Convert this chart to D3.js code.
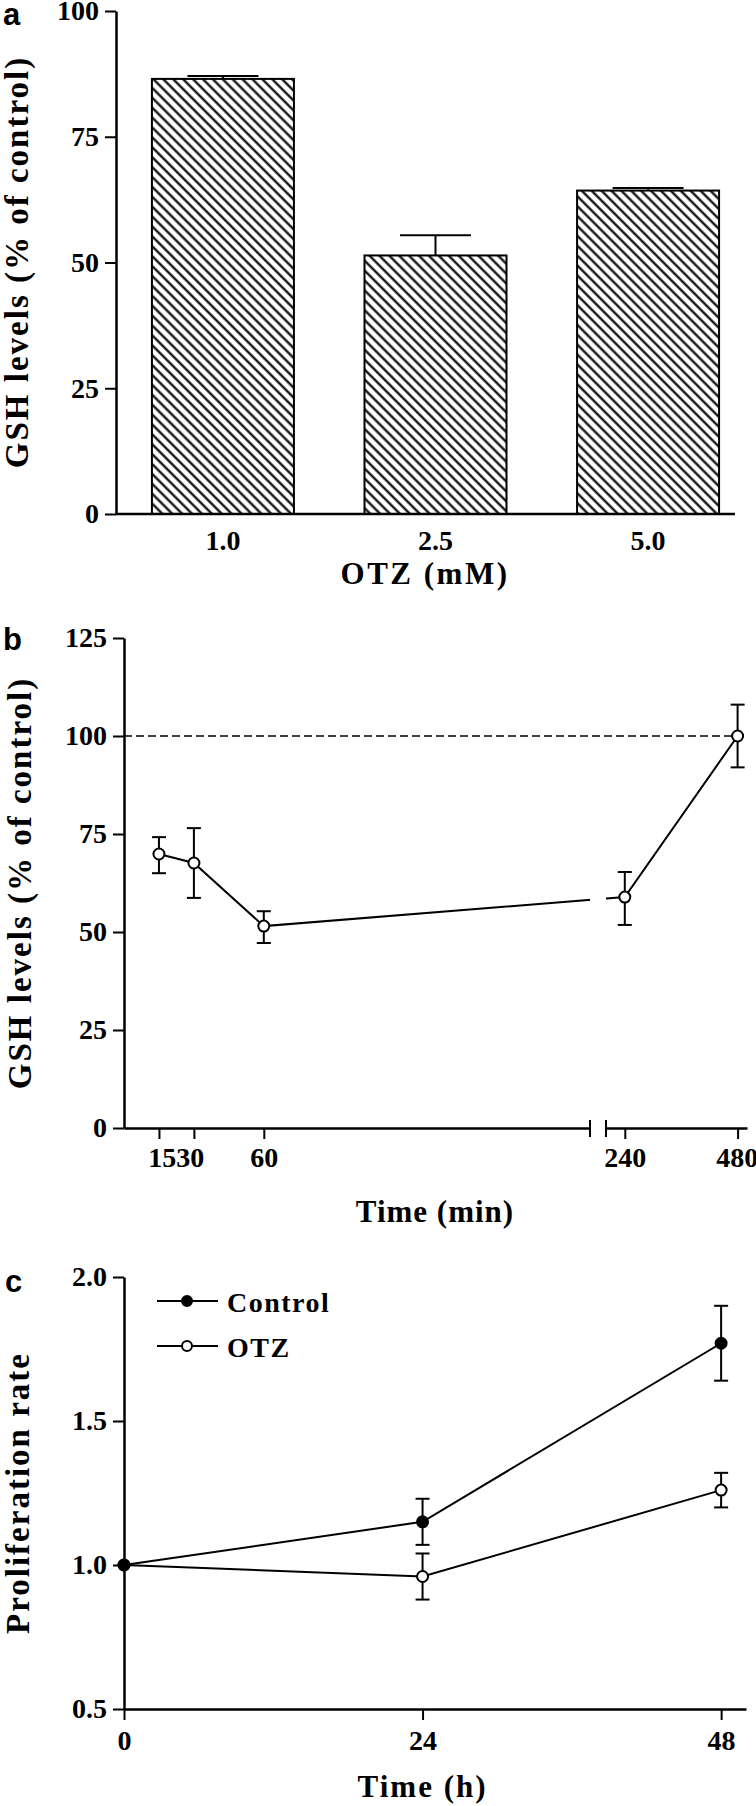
<!DOCTYPE html>
<html>
<head>
<meta charset="utf-8">
<script src="https://cdn.jsdelivr.net/npm/d3@7"></script>
<style>
  body { margin: 0; background: #fff; }
  text { font-family: "Liberation Serif", "Times New Roman", serif; font-weight: bold; }
  .letter { font-family: "Liberation Sans", Arial, sans-serif; font-weight: bold; font-size: 31px; }
</style>
</head>
<body>
<div id="chart"></div>
<script>
// panel a data
var otzConc = ["1.0", "2.5", "5.0"];
var gshA = [86.5, 51.4, 64.3];
var gshAErr = [0.6, 4.0, 0.5];

// panel b data
var timeMin = [15, 30, 60, 240, 480];
var gshB = [69.9, 67.6, 51.5, 58.9, 100];
var gshBLow = [65.0, 58.7, 47.2, 51.8, 92];
var gshBHigh = [74.2, 76.5, 55.3, 65.3, 108];

// panel c data
var timeH = [0, 24, 48];
var ctrlRate = [1.0, 1.15, 1.77];
var ctrlErr = [0, 0.08, 0.13];
var otzRate = [1.0, 0.96, 1.26];
var otzErr = [0, 0.08, 0.06];

var tickFont = "28px";

var svg = d3.select("#chart").append("svg")
    .attr("width", 756)
    .attr("height", 1806)
    .style("background", "#fff");

var defs = svg.append("defs");

// diagonal hatch for the bars
defs.append("pattern")
    .attr("id", "hatch")
    .attr("patternUnits", "userSpaceOnUse")
    .attr("width", 7)
    .attr("height", 7)
    .attr("patternTransform", "rotate(-45)")
  .append("line")
    .attr("x1", 3.5).attr("y1", 0)
    .attr("x2", 3.5).attr("y2", 7)
    .attr("stroke", "#000")
    .attr("stroke-width", 2.2);

function styleAxis(g) {
  g.select(".domain").attr("stroke", "#000").attr("stroke-width", 2.5);
  g.selectAll(".tick line").attr("stroke", "#000").attr("stroke-width", 2);
  g.selectAll(".tick text").style("font-size", tickFont).attr("fill", "#000");
}

function errBar(g, x, y1, y2, w) {
  g.append("line").attr("x1", x).attr("x2", x).attr("y1", y1).attr("y2", y2)
    .attr("stroke", "#000").attr("stroke-width", 2);
  g.append("line").attr("x1", x - w / 2).attr("x2", x + w / 2).attr("y1", y2).attr("y2", y2)
    .attr("stroke", "#000").attr("stroke-width", 2);
}

function yTitle(txt, x, y) {
  svg.append("text")
    .attr("text-anchor", "middle")
    .attr("transform", "translate(" + x + "," + y + ")rotate(-90)")
    .style("font-size", "33px")
    .style("letter-spacing", "2px")
    .text(txt);
}

function xTitle(txt, x, y, ls) {
  svg.append("text")
    .attr("x", x).attr("y", y)
    .attr("text-anchor", "middle")
    .style("font-size", "31px")
    .style("letter-spacing", ls + "px")
    .text(txt);
}

// ---------------- panel a ----------------
var ya = d3.scaleLinear().domain([0, 100]).range([514, 11]);
var xa = d3.scaleBand().domain(otzConc).range([116, 755])
    .paddingInner(0.332).paddingOuter(0.169);

var ga = svg.append("g");

ga.selectAll("rect.bar")
  .data(gshA)
  .enter().append("rect")
    .attr("class", "bar")
    .attr("x", function(d, i) { return xa(otzConc[i]); })
    .attr("y", function(d) { return ya(d); })
    .attr("width", xa.bandwidth())
    .attr("height", function(d) { return ya(0) - ya(d); })
    .attr("fill", "url(#hatch)")
    .attr("stroke", "#000")
    .attr("stroke-width", 2);

gshA.forEach(function(d, i) {
  var cx = xa(otzConc[i]) + xa.bandwidth() / 2;
  errBar(ga, cx, ya(d), ya(d + gshAErr[i]), xa.bandwidth() / 2);
});

var ayA = ga.append("g").attr("transform", "translate(116,0)")
    .call(d3.axisLeft(ya).tickValues([0, 25, 50, 75, 100]).tickSize(11).tickSizeOuter(0).tickPadding(6));
styleAxis(ayA);

var axA = ga.append("g").attr("transform", "translate(0,514)")
    .call(d3.axisBottom(xa).tickSize(0).tickPadding(16));
styleAxis(axA);
axA.select(".domain").remove();
ga.append("line").attr("x1", 116).attr("x2", 735).attr("y1", 514).attr("y2", 514)
  .attr("stroke", "#000").attr("stroke-width", 2.5);

xTitle("OTZ (mM)", 425, 584, 2.5);
yTitle("GSH levels (% of control)", 28, 262);
svg.append("text").attr("class", "letter").attr("x", 3).attr("y", 25).text("a");

// ---------------- panel b ----------------
var yb = d3.scaleLinear().domain([0, 125]).range([1128, 638]);
var xb1 = d3.scaleLinear().domain([0, 200]).range([124, 590]);
var xb2 = d3.scaleLinear().domain([200, 500]).range([606, 747]);
function xb(t) { return t <= 200 ? xb1(t) : xb2(t); }

var gb = svg.append("g");

var clip = defs.append("clipPath").attr("id", "brk");
clip.append("rect").attr("x", 0).attr("y", 600).attr("width", 590).attr("height", 540);
clip.append("rect").attr("x", 606).attr("y", 600).attr("width", 150).attr("height", 540);

// dashed 100% reference
gb.append("line")
  .attr("x1", 124).attr("x2", 747)
  .attr("y1", yb(100)).attr("y2", yb(100))
  .attr("stroke", "#000").attr("stroke-width", 1.6)
  .attr("stroke-dasharray", "8,4");

var lineB = d3.line()
    .x(function(d, i) { return xb(timeMin[i]); })
    .y(function(d) { return yb(d); });

gb.append("path")
  .attr("d", lineB(gshB))
  .attr("clip-path", "url(#brk)")
  .attr("fill", "none").attr("stroke", "#000").attr("stroke-width", 2);

gshB.forEach(function(d, i) {
  var cx = xb(timeMin[i]);
  errBar(gb, cx, yb(d), yb(gshBHigh[i]), 14);
  errBar(gb, cx, yb(d), yb(gshBLow[i]), 14);
});

gb.selectAll("circle")
  .data(gshB)
  .enter().append("circle")
    .attr("cx", function(d, i) { return xb(timeMin[i]); })
    .attr("cy", function(d) { return yb(d); })
    .attr("r", 5.5)
    .attr("fill", "#fff").attr("stroke", "#000").attr("stroke-width", 2);

var ayB = gb.append("g").attr("transform", "translate(124,0)")
    .call(d3.axisLeft(yb).tickValues([0, 25, 50, 75, 100, 125]).tickSize(11).tickSizeOuter(0).tickPadding(6));
styleAxis(ayB);

var axB1 = gb.append("g").attr("transform", "translate(0,1128)")
    .call(d3.axisBottom(xb1).tickValues([15, 30, 60]).tickSize(11).tickSizeOuter(0).tickPadding(8));
styleAxis(axB1);
// 15 and 30 sit close together, as in the original
axB1.selectAll(".tick text").attr("dx", function(d) { return d === 15 ? "0.1em" : (d === 30 ? "-0.15em" : 0); });

var axB2 = gb.append("g").attr("transform", "translate(0,1128)")
    .call(d3.axisBottom(xb2).tickValues([240, 480]).tickSize(11).tickSizeOuter(0).tickPadding(8));
styleAxis(axB2);
axB2.selectAll(".tick text").attr("text-anchor", function(d) { return d === 480 ? "end" : "middle"; })
    .attr("dx", function(d) { return d === 480 ? "0.72em" : 0; });

// axis break marks
[590, 606].forEach(function(x) {
  gb.append("line").attr("x1", x).attr("x2", x).attr("y1", 1120).attr("y2", 1137)
    .attr("stroke", "#000").attr("stroke-width", 2);
});

xTitle("Time (min)", 435, 1222, 1);
yTitle("GSH levels (% of control)", 31, 883);
svg.append("text").attr("class", "letter").attr("x", 3).attr("y", 650).text("b");

// ---------------- panel c ----------------
var yc = d3.scaleLinear().domain([0.5, 2.0]).range([1709, 1277]);
var xc = d3.scaleLinear().domain([0, 50]).range([124, 746]);

var gc = svg.append("g");

var lineC = d3.line()
    .x(function(d, i) { return xc(timeH[i]); })
    .y(function(d) { return yc(d); });

[[otzRate, otzErr, "#fff"], [ctrlRate, ctrlErr, "#000"]].forEach(function(s) {
  gc.append("path")
    .attr("d", lineC(s[0]))
    .attr("fill", "none").attr("stroke", "#000").attr("stroke-width", 2);
  s[0].forEach(function(d, i) {
    if (s[1][i] > 0) {
      errBar(gc, xc(timeH[i]), yc(d), yc(d + s[1][i]), 14);
      errBar(gc, xc(timeH[i]), yc(d), yc(d - s[1][i]), 14);
    }
  });
  gc.selectAll(null)
    .data(s[0])
    .enter().append("circle")
      .attr("cx", function(d, i) { return xc(timeH[i]); })
      .attr("cy", function(d) { return yc(d); })
      .attr("r", 5.5)
      .attr("fill", s[2]).attr("stroke", "#000").attr("stroke-width", 2);
});

var ayC = gc.append("g").attr("transform", "translate(124,0)")
    .call(d3.axisLeft(yc).tickValues([0.5, 1.0, 1.5, 2.0]).tickFormat(d3.format(".1f"))
      .tickSize(11).tickSizeOuter(0).tickPadding(6));
styleAxis(ayC);

var axC = gc.append("g").attr("transform", "translate(0,1709)")
    .call(d3.axisBottom(xc).tickValues(timeH).tickSize(11).tickSizeOuter(0).tickPadding(10));
styleAxis(axC);

// legend
var legend = [["Control", "#000", 1301], ["OTZ", "#fff", 1346]];
legend.forEach(function(l) {
  gc.append("line").attr("x1", 157).attr("x2", 218).attr("y1", l[2]).attr("y2", l[2])
    .attr("stroke", "#000").attr("stroke-width", 2);
  gc.append("circle").attr("cx", 187).attr("cy", l[2]).attr("r", 5)
    .attr("fill", l[1]).attr("stroke", "#000").attr("stroke-width", 2);
  gc.append("text").attr("x", 227).attr("y", l[2] + 11)
    .style("font-size", "28px").style("letter-spacing", "1.5px").text(l[0]);
});

xTitle("Time (h)", xc(24), 1797, 2);
yTitle("Proliferation rate", 29, 1493);
svg.append("text").attr("class", "letter").attr("x", 5).attr("y", 1292).text("c");
</script>
</body>
</html>
